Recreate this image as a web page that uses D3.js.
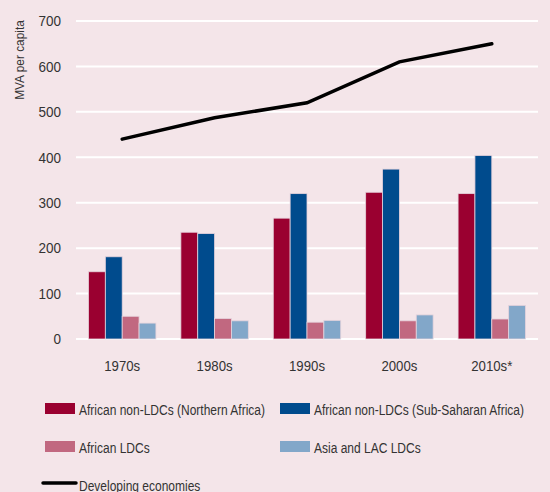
<!DOCTYPE html>
<html>
<head>
<meta charset="utf-8">
<script src="https://cdn.jsdelivr.net/npm/d3@7"></script>
<style>
  body { margin: 0; background: #f4e5e9; }
  svg { display: block; font-family: "Liberation Sans", Arial, sans-serif; }
</style>
</head>
<body>
<div id="chart"></div>
<script>
// Sizes
const width = 550;
const height = 492;
const margin = { top: 21, right: 12, bottom: 153, left: 76 };

// Data
const decades = ["1970s", "1980s", "1990s", "2000s", "2010s*"];
const seriesNames = [
  "African non-LDCs (Northern Africa)",
  "African non-LDCs (Sub-Saharan Africa)",
  "African LDCs",
  "Asia and LAC LDCs"
];
const northernAfrica = [148, 235, 266, 323, 320];
const subSaharan = [181, 232, 320, 374, 404];
const africanLDCs = [50, 45, 37, 40, 44];
const asiaLacLDCs = [35, 40, 41, 53, 74];
const developing = [440, 487, 520, 610, 650];
const lineName = "Developing economies";
const yTicks = [0, 100, 200, 300, 400, 500, 600, 700];
const colors = ["#9a0030", "#004b8d", "#c16880", "#82a7c9"];

const seriesValues = [northernAfrica, subSaharan, africanLDCs, asiaLacLDCs];

// condensed look: squeeze text horizontally (no narrow font installed)
function condense(sel, factor) {
  sel.each(function() {
    const w = this.getComputedTextLength();
    d3.select(this)
      .attr("textLength", w * factor)
      .attr("lengthAdjust", "spacingAndGlyphs");
  });
}

const svg = d3.select("#chart")
  .append("svg")
  .attr("width", width)
  .attr("height", height);

svg.append("rect")
  .attr("width", width)
  .attr("height", height)
  .attr("fill", "#f4e5e9");

// Scales
const x0 = d3.scaleBand()
  .domain(decades)
  .range([margin.left, width - margin.right])
  .paddingInner(0.27)
  .paddingOuter(0.135);

const x1 = d3.scaleBand()
  .domain(d3.range(seriesNames.length))
  .range([0, x0.bandwidth()]);

const y = d3.scaleLinear()
  .domain([0, 700])
  .range([height - margin.bottom, margin.top]);

// Gridlines
svg.append("g")
  .selectAll("line")
  .data(yTicks)
  .join("line")
  .attr("x1", margin.left)
  .attr("x2", width - margin.right)
  .attr("y1", d => y(d))
  .attr("y2", d => y(d))
  .attr("stroke", "#fff")
  .attr("stroke-width", 2);

// Y axis labels
const yAxis = svg.append("g")
  .attr("transform", `translate(${margin.left},0)`)
  .call(d3.axisLeft(y).tickValues(yTicks).tickSize(0).tickPadding(15));
yAxis.select(".domain").remove();
yAxis.selectAll("text")
  .attr("font-size", 15)
  .attr("font-family", null)
  .attr("fill", "#333")
  .call(condense, 0.9);

svg.append("text")
  .attr("transform", `translate(24,60) rotate(-90)`)
  .attr("text-anchor", "middle")
  .attr("font-size", 13.5)
  .attr("fill", "#333")
  .text("MVA per capita")
  .call(condense, 0.88);

// Bars
const groups = svg.append("g")
  .selectAll("g")
  .data(decades)
  .join("g")
  .attr("transform", d => `translate(${x0(d)},0)`);

groups.selectAll("rect")
  .data((d, i) => seriesValues.map((s, k) => ({ k, v: s[i] })))
  .join("rect")
  .attr("x", d => x1(d.k))
  .attr("y", d => y(d.v))
  .attr("width", x1.bandwidth())
  .attr("height", d => y(0) - y(d.v))
  .attr("fill", d => colors[d.k])
  .attr("stroke", "#e6d3dc")
  .attr("stroke-width", 0.8);

// X axis labels
const xAxis = svg.append("g")
  .attr("transform", `translate(0,${y(0)})`)
  .call(d3.axisBottom(x0).tickSize(0).tickPadding(21));
xAxis.select(".domain").remove();
xAxis.selectAll("text")
  .attr("font-size", 15)
  .attr("font-family", null)
  .attr("fill", "#333")
  .call(condense, 0.88);

// Line
const line = d3.line()
  .x((d, i) => x0(decades[i]) + x0.bandwidth() / 2)
  .y(d => y(d));

svg.append("path")
  .datum(developing)
  .attr("d", line)
  .attr("fill", "none")
  .attr("stroke", "#000")
  .attr("stroke-width", 3.5)
  .attr("stroke-linecap", "round");

// Legend (text squeezed with a transform so its box stays true)
const legendCols = [45, 280];
const legendRows = [403, 441];
const legend = svg.append("g");
seriesNames.forEach((name, i) => {
  const lx = legendCols[i % 2];
  const ly = legendRows[Math.floor(i / 2)];
  legend.append("rect")
    .attr("x", lx)
    .attr("y", ly)
    .attr("width", 30)
    .attr("height", 11)
    .attr("fill", colors[i]);
  legend.append("text")
    .attr("transform", `translate(${lx + 34},${ly + 11.5}) scale(0.8,1)`)
    .attr("font-size", 15)
    .attr("fill", "#333")
    .text(name);
});
legend.append("line")
  .attr("x1", 43)
  .attr("x2", 76)
  .attr("y1", 483)
  .attr("y2", 483)
  .attr("stroke", "#000")
  .attr("stroke-width", 3.5)
  .attr("stroke-linecap", "round");
legend.append("text")
  .attr("transform", `translate(79,491) scale(0.8,1)`)
  .attr("font-size", 15)
  .attr("fill", "#333")
  .text(lineName);
</script>
</body>
</html>
